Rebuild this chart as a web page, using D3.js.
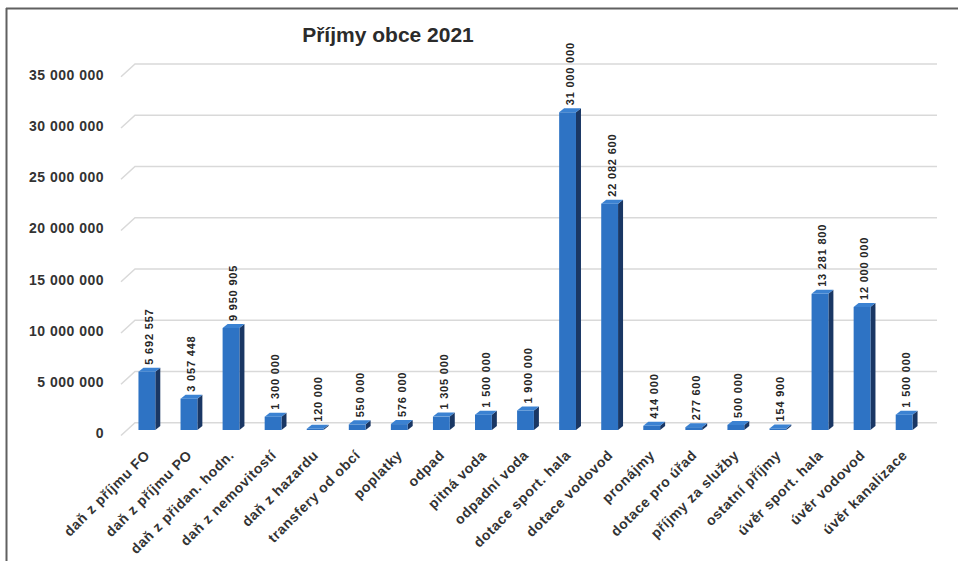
<!DOCTYPE html>
<html>
<head>
<meta charset="utf-8">
<script src="https://cdn.jsdelivr.net/npm/d3@7"></script>
<style>
  html, body { margin: 0; padding: 0; background: #fff; }
  svg { display: block; font-family: "Liberation Sans", Arial, sans-serif; }
</style>
</head>
<body>
<svg id="chart" width="958" height="561"></svg>
<script>
const title = "Příjmy obce 2021";
const categories = [
  "daň z příjmu FO", "daň z příjmu PO", "daň z přidan. hodn.", "daň z nemovitostí",
  "daň z hazardu", "transfery od obcí", "poplatky", "odpad", "pitná voda",
  "odpadní voda", "dotace sport. hala", "dotace vodovod", "pronájmy",
  "dotace pro úřad", "příjmy za služby", "ostatní příjmy", "úvěr sport. hala",
  "úvěr vodovod", "úvěr kanalizace"
];
const values = [
  5692557, 3057448, 9950905, 1300000, 120000, 550000, 576000, 1305000, 1500000,
  1900000, 31000000, 22082600, 414000, 277600, 500000, 154900, 13281800,
  12000000, 1500000
];
const yTicks = [0, 5000000, 10000000, 15000000, 20000000, 25000000, 30000000, 35000000];

const svg = d3.select("#chart");
const loc = d3.formatLocale({decimal: ",", thousands: "\u00a0", grouping: [3], currency: ["", ""]});
const fmt = loc.format(",d");

const y0 = 430;
const y = d3.scaleLinear().domain([0, 35000000]).range([y0, y0 - 358.75]);
const x = d3.scaleBand().domain(categories).range([125, 926]).paddingInner(0.6).paddingOuter(0.32);
const bw = x.bandwidth();
const dx = 5, dy = 4;       // bar depth
const gOff = -7.3;          // back wall offset for gridlines
const frontX = 121, backX = 135, rightX = 937;

// frame
svg.append("line").attr("x1", 6).attr("x2", 958).attr("y1", 8.5).attr("y2", 8.5)
  .attr("stroke", "#606060").attr("stroke-width", 2);
svg.append("line").attr("x1", 6.5).attr("x2", 6.5).attr("y1", 8).attr("y2", 561)
  .attr("stroke", "#606060").attr("stroke-width", 2);

// title
svg.append("text").attr("x", 388).attr("y", 42).attr("text-anchor", "middle")
  .attr("font-size", 21).attr("font-weight", "bold").attr("fill", "#2b2b2b").text(title);

// gridlines
const grid = svg.append("g");
yTicks.forEach(v => {
  const gy = y(v) + gOff;
  grid.append("path")
    .attr("d", `M${frontX},${y(v) + 5.5} L${backX},${gy} L${rightX},${gy}`)
    .attr("fill", "none").attr("stroke", "#d9d9d9").attr("stroke-width", 1.5);
  grid.append("text").attr("x", 104).attr("y", y(v) + 3.5).attr("dy", "0.35em")
    .attr("text-anchor", "end").attr("font-size", 14).attr("font-weight", "bold")
    .attr("letter-spacing", "0.5px").attr("fill", "#333").text(fmt(v));
});

// bars
const bars = svg.append("g");
categories.forEach((c, i) => {
  const bx = x(c), top = y(values[i]);
  bars.append("path")
    .attr("d", `M${bx + bw},${top} L${bx + bw + dx},${top - dy} L${bx + bw + dx},${y0 - dy} L${bx + bw},${y0} Z`)
    .attr("fill", "#1a3764");
  bars.append("rect").attr("x", bx).attr("y", top).attr("width", bw).attr("height", y0 - top)
    .attr("fill", "#2e73c4");
  bars.append("path")
    .attr("d", `M${bx},${top} L${bx + dx},${top - dy} L${bx + bw + dx},${top - dy} L${bx + bw},${top} Z`)
    .attr("fill", "#3b82d2");
  // value label
  const lx = bx + (bw + dx) / 2, ly = top - 7;
  bars.append("text").attr("transform", `translate(${lx},${ly}) rotate(-90)`)
    .attr("dy", "0.35em").attr("font-size", 11).attr("font-weight", "bold")
    .attr("letter-spacing", "0.8px").attr("fill", "#262626").text(fmt(values[i]));
  // category label
  const cx = bx + bw / 2 + 4, cy = 456;
  bars.append("text").attr("transform", `translate(${cx},${cy}) rotate(-45)`)
    .attr("text-anchor", "end").attr("font-size", 14).attr("font-weight", "bold")
    .attr("letter-spacing", "0.6px").attr("fill", "#333").text(c);
});
</script>
</body>
</html>
